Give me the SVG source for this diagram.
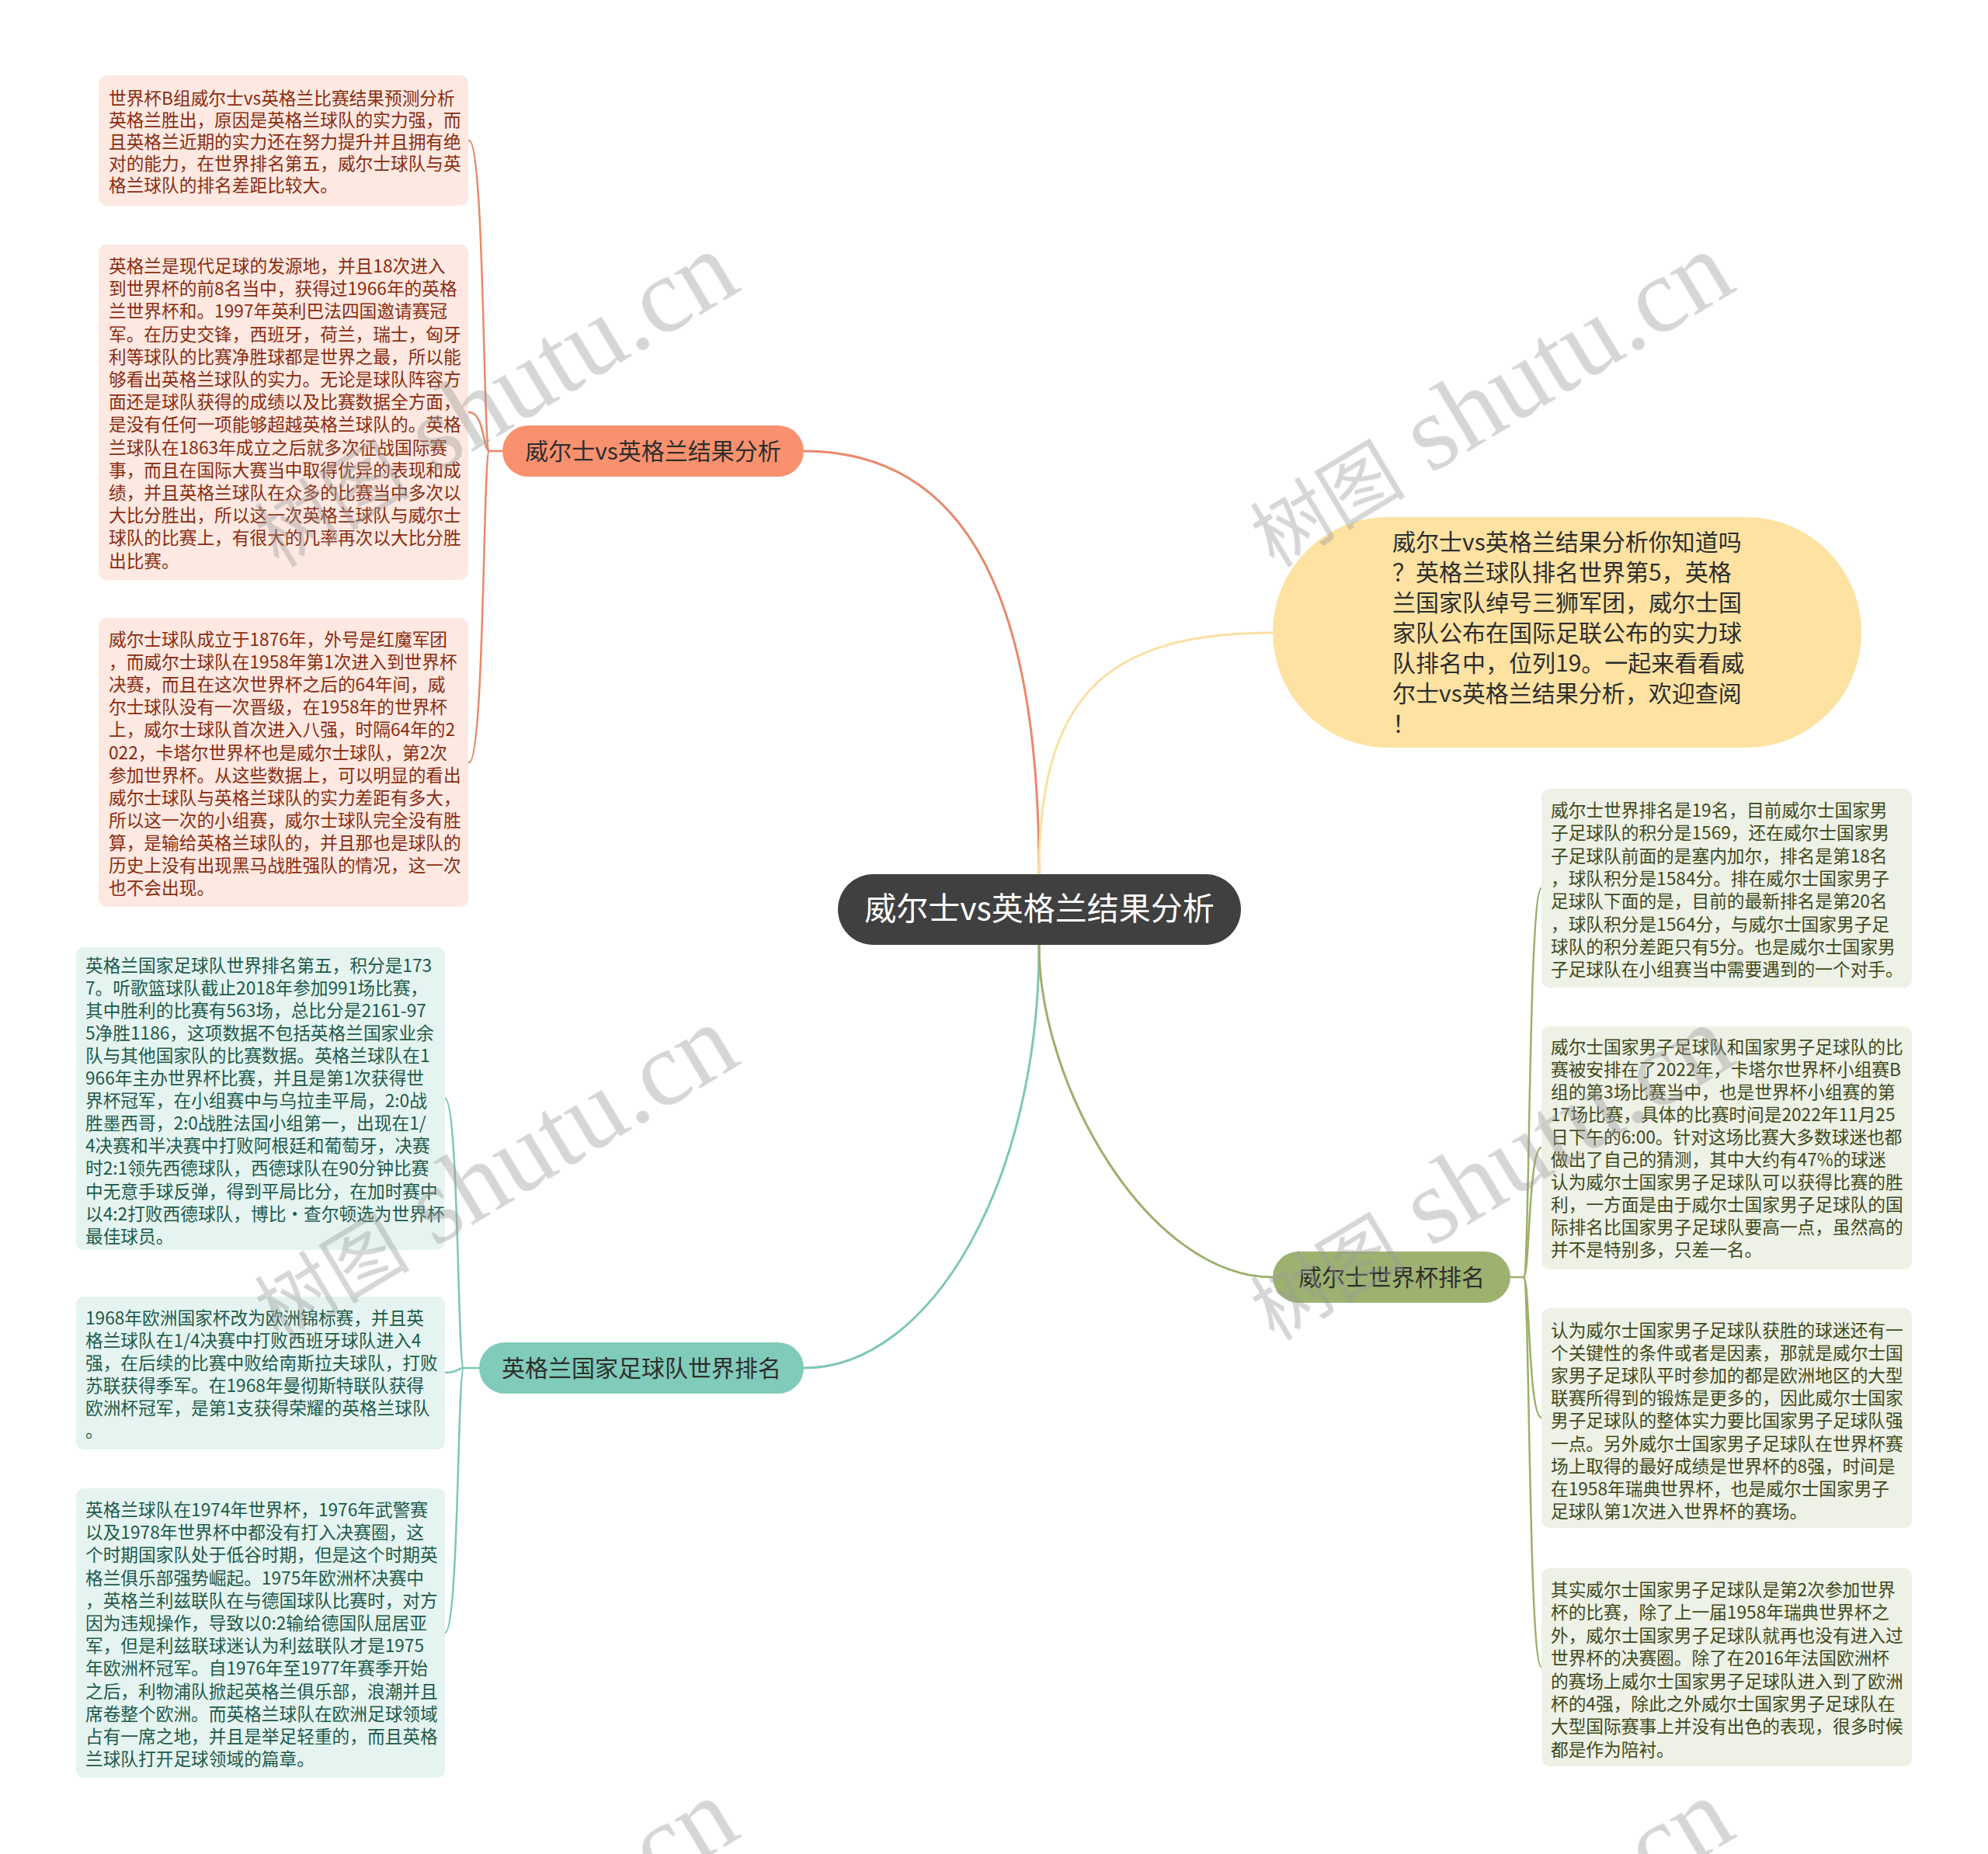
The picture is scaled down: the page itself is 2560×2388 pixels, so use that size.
<svg xmlns="http://www.w3.org/2000/svg" width="2560" height="2388" viewBox="0 0 2560 2388">
<style>
.lf{font-family:"Noto Sans CJK SC","Liberation Sans",sans-serif;font-size:22.7px}
.nf{font-family:"Noto Sans CJK SC","Liberation Sans",sans-serif;font-size:30px}
.pkT{fill:#8a2c10}
.tlT{fill:#1d5a4b}
.gnT{fill:#3e4a1c}
.pkB{fill:#fde9e2}
.tlB{fill:#e5f4f0}
.gnB{fill:#eef1e6}
.con{fill:none;stroke-width:3;stroke-linecap:round}
.br{fill:none;stroke-width:2.5;stroke-linecap:round}
.wm{font-family:"Liberation Serif",serif;fill:#9a9a9a}
</style>
<rect width="2560" height="2388" fill="#ffffff"/>

<g id="connectors">
<path class="con" stroke="#e8896a" d="M1338,1126 C1338,780 1250,581 1035,581"/>
<path class="con" stroke="#fbe0a3" d="M1338,1126 C1338,900 1420,815 1639,815"/>
<path class="con" stroke="#7dc7b6" d="M1338,1217 C1338,1520 1200,1762 1035,1762"/>
<path class="con" stroke="#9cb06c" d="M1338,1217 C1338,1400 1480,1645 1639,1645"/>
<path class="br" stroke="#e8896a" d="M647,581 H630"/>
<path class="br" stroke="#e8896a" d="M630,581 C622,581 624,181 604,181"/>
<path class="br" stroke="#e8896a" d="M630,581 C622,581 624,531 604,531"/>
<path class="br" stroke="#e8896a" d="M630,581 C622,581 624,982 604,982"/>
<path class="br" stroke="#7dc7b6" d="M617,1762 H597"/>
<path class="br" stroke="#7dc7b6" d="M597,1762 C589,1762 591,1415 573,1415"/>
<path class="br" stroke="#7dc7b6" d="M597,1762 C589,1762 591,1768 573,1768"/>
<path class="br" stroke="#7dc7b6" d="M597,1762 C589,1762 591,2103 573,2103"/>
<path class="br" stroke="#9cb06c" d="M1945,1645 H1962"/>
<path class="br" stroke="#9cb06c" d="M1962,1645 C1970,1645 1968,1144 1985,1144"/>
<path class="br" stroke="#9cb06c" d="M1962,1645 C1970,1645 1968,1478 1985,1478"/>
<path class="br" stroke="#9cb06c" d="M1962,1645 C1970,1645 1968,1826 1985,1826"/>
<path class="br" stroke="#9cb06c" d="M1962,1645 C1970,1645 1968,2147 1985,2147"/>
</g>

<g id="center">
<rect x="1079" y="1126" width="519" height="91" rx="45.5" fill="#404040"/>
<text x="1338.5" y="1185" text-anchor="middle" font-family="Noto Sans CJK SC, Liberation Sans, sans-serif" font-size="41" fill="#ffffff">威尔士vs英格兰结果分析</text>
</g>

<g id="node-orange">
<rect x="647" y="548" width="388" height="66" rx="33" fill="#f9916f"/>
<text class="nf" x="841" y="592" text-anchor="middle" fill="#2e2e2e">威尔士vs英格兰结果分析</text>
</g>

<g id="node-teal">
<rect x="617" y="1729" width="418" height="66" rx="33" fill="#80cbb9"/>
<text class="nf" x="826" y="1773" text-anchor="middle" fill="#2e2e2e" font-size="29.5">英格兰国家足球队世界排名</text>
</g>

<g id="node-green">
<rect x="1639" y="1612" width="306" height="66" rx="33" fill="#9db270"/>
<text class="nf" x="1792" y="1656" text-anchor="middle" fill="#2e2e2e">威尔士世界杯排名</text>
</g>

<g id="node-yellow">
<rect x="1639" y="666" width="758" height="297" rx="148.5" fill="#fde2a2"/>
<text class="nf" x="1793" y="709" fill="#2e2e2e" font-size="29.6">
<tspan x="1793" dy="0">威尔士vs英格兰结果分析你知道吗</tspan>
<tspan x="1793" dy="39">？英格兰球队排名世界第5，英格</tspan>
<tspan x="1793" dy="39">兰国家队绰号三狮军团，威尔士国</tspan>
<tspan x="1793" dy="39">家队公布在国际足联公布的实力球</tspan>
<tspan x="1793" dy="39">队排名中，位列19。一起来看看威</tspan>
<tspan x="1793" dy="39">尔士vs英格兰结果分析，欢迎查阅</tspan>
<tspan x="1793" dy="39">！</tspan>
</text>
</g>

<g id="leaf-o1">
<rect class="pkB" x="127" y="97" width="476" height="168" rx="10"/>
<text class="lf pkT" x="140" y="135">
<tspan x="140" dy="0">世界杯B组威尔士vs英格兰比赛结果预测分析</tspan>
<tspan x="140" dy="28">英格兰胜出，原因是英格兰球队的实力强，而</tspan>
<tspan x="140" dy="28">且英格兰近期的实力还在努力提升并且拥有绝</tspan>
<tspan x="140" dy="28">对的能力，在世界排名第五，威尔士球队与英</tspan>
<tspan x="140" dy="28">格兰球队的排名差距比较大。</tspan>
</text>
</g>

<g id="leaf-o2">
<rect class="pkB" x="127" y="315" width="476" height="432" rx="10"/>
<text class="lf pkT" x="140" y="351">
<tspan x="140" dy="0">英格兰是现代足球的发源地，并且18次进入</tspan>
<tspan x="140" dy="29.2">到世界杯的前8名当中，获得过1966年的英格</tspan>
<tspan x="140" dy="29.2">兰世界杯和。1997年英利巴法四国邀请赛冠</tspan>
<tspan x="140" dy="29.2">军。在历史交锋，西班牙，荷兰，瑞士，匈牙</tspan>
<tspan x="140" dy="29.2">利等球队的比赛净胜球都是世界之最，所以能</tspan>
<tspan x="140" dy="29.2">够看出英格兰球队的实力。无论是球队阵容方</tspan>
<tspan x="140" dy="29.2">面还是球队获得的成绩以及比赛数据全方面，</tspan>
<tspan x="140" dy="29.2">是没有任何一项能够超越英格兰球队的。英格</tspan>
<tspan x="140" dy="29.2">兰球队在1863年成立之后就多次征战国际赛</tspan>
<tspan x="140" dy="29.2">事，而且在国际大赛当中取得优异的表现和成</tspan>
<tspan x="140" dy="29.2">绩，并且英格兰球队在众多的比赛当中多次以</tspan>
<tspan x="140" dy="29.2">大比分胜出，所以这一次英格兰球队与威尔士</tspan>
<tspan x="140" dy="29.2">球队的比赛上，有很大的几率再次以大比分胜</tspan>
<tspan x="140" dy="29.2">出比赛。</tspan>
</text>
</g>

<g id="leaf-o3">
<rect class="pkB" x="127" y="796" width="476" height="372" rx="10"/>
<text class="lf pkT" x="140" y="832">
<tspan x="140" dy="0">威尔士球队成立于1876年，外号是红魔军团</tspan>
<tspan x="140" dy="29.1">，而威尔士球队在1958年第1次进入到世界杯</tspan>
<tspan x="140" dy="29.1">决赛，而且在这次世界杯之后的64年间，威</tspan>
<tspan x="140" dy="29.1">尔士球队没有一次晋级，在1958年的世界杯</tspan>
<tspan x="140" dy="29.1">上，威尔士球队首次进入八强，时隔64年的2</tspan>
<tspan x="140" dy="29.1">022，卡塔尔世界杯也是威尔士球队，第2次</tspan>
<tspan x="140" dy="29.1">参加世界杯。从这些数据上，可以明显的看出</tspan>
<tspan x="140" dy="29.1">威尔士球队与英格兰球队的实力差距有多大，</tspan>
<tspan x="140" dy="29.1">所以这一次的小组赛，威尔士球队完全没有胜</tspan>
<tspan x="140" dy="29.1">算，是输给英格兰球队的，并且那也是球队的</tspan>
<tspan x="140" dy="29.1">历史上没有出现黑马战胜强队的情况，这一次</tspan>
<tspan x="140" dy="29.1">也不会出现。</tspan>
</text>
</g>

<g id="leaf-t1">
<rect class="tlB" x="98" y="1220" width="475" height="390" rx="10"/>
<text class="lf tlT" x="110" y="1252">
<tspan x="110" dy="0">英格兰国家足球队世界排名第五，积分是173</tspan>
<tspan x="110" dy="29.05">7。听歌篮球队截止2018年参加991场比赛，</tspan>
<tspan x="110" dy="29.05">其中胜利的比赛有563场，总比分是2161-97</tspan>
<tspan x="110" dy="29.05">5净胜1186，这项数据不包括英格兰国家业余</tspan>
<tspan x="110" dy="29.05">队与其他国家队的比赛数据。英格兰球队在1</tspan>
<tspan x="110" dy="29.05">966年主办世界杯比赛，并且是第1次获得世</tspan>
<tspan x="110" dy="29.05">界杯冠军，在小组赛中与乌拉圭平局，2:0战</tspan>
<tspan x="110" dy="29.05">胜墨西哥，2:0战胜法国小组第一，出现在1/</tspan>
<tspan x="110" dy="29.05">4决赛和半决赛中打败阿根廷和葡萄牙，决赛</tspan>
<tspan x="110" dy="29.05">时2:1领先西德球队，西德球队在90分钟比赛</tspan>
<tspan x="110" dy="29.05">中无意手球反弹，得到平局比分，在加时赛中</tspan>
<tspan x="110" dy="29.05">以4:2打败西德球队，博比·查尔顿选为世界杯</tspan>
<tspan x="110" dy="29.05">最佳球员。</tspan>
</text>
</g>

<g id="leaf-t2">
<rect class="tlB" x="98" y="1670" width="475" height="197" rx="10"/>
<text class="lf tlT" x="110" y="1706">
<tspan x="110" dy="0">1968年欧洲国家杯改为欧洲锦标赛，并且英</tspan>
<tspan x="110" dy="29">格兰球队在1/4决赛中打败西班牙球队进入4</tspan>
<tspan x="110" dy="29">强，在后续的比赛中败给南斯拉夫球队，打败</tspan>
<tspan x="110" dy="29">苏联获得季军。在1968年曼彻斯特联队获得</tspan>
<tspan x="110" dy="29">欧洲杯冠军，是第1支获得荣耀的英格兰球队</tspan>
<tspan x="110" dy="29">。</tspan>
</text>
</g>

<g id="leaf-t3">
<rect class="tlB" x="98" y="1917" width="475" height="373" rx="10"/>
<text class="lf tlT" x="110" y="1953">
<tspan x="110" dy="0">英格兰球队在1974年世界杯，1976年武警赛</tspan>
<tspan x="110" dy="29.2">以及1978年世界杯中都没有打入决赛圈，这</tspan>
<tspan x="110" dy="29.2">个时期国家队处于低谷时期，但是这个时期英</tspan>
<tspan x="110" dy="29.2">格兰俱乐部强势崛起。1975年欧洲杯决赛中</tspan>
<tspan x="110" dy="29.2">，英格兰利兹联队在与德国球队比赛时，对方</tspan>
<tspan x="110" dy="29.2">因为违规操作，导致以0:2输给德国队屈居亚</tspan>
<tspan x="110" dy="29.2">军，但是利兹联球迷认为利兹联队才是1975</tspan>
<tspan x="110" dy="29.2">年欧洲杯冠军。自1976年至1977年赛季开始</tspan>
<tspan x="110" dy="29.2">之后，利物浦队掀起英格兰俱乐部，浪潮并且</tspan>
<tspan x="110" dy="29.2">席卷整个欧洲。而英格兰球队在欧洲足球领域</tspan>
<tspan x="110" dy="29.2">占有一席之地，并且是举足轻重的，而且英格</tspan>
<tspan x="110" dy="29.2">兰球队打开足球领域的篇章。</tspan>
</text>
</g>

<g id="leaf-g1">
<rect class="gnB" x="1985" y="1016" width="477" height="256" rx="10"/>
<text class="lf gnT" x="1997" y="1052">
<tspan x="1997" dy="0">威尔士世界排名是19名，目前威尔士国家男</tspan>
<tspan x="1997" dy="29.3">子足球队的积分是1569，还在威尔士国家男</tspan>
<tspan x="1997" dy="29.3">子足球队前面的是塞内加尔，排名是第18名</tspan>
<tspan x="1997" dy="29.3">，球队积分是1584分。排在威尔士国家男子</tspan>
<tspan x="1997" dy="29.3">足球队下面的是，目前的最新排名是第20名</tspan>
<tspan x="1997" dy="29.3">，球队积分是1564分，与威尔士国家男子足</tspan>
<tspan x="1997" dy="29.3">球队的积分差距只有5分。也是威尔士国家男</tspan>
<tspan x="1997" dy="29.3">子足球队在小组赛当中需要遇到的一个对手。</tspan>
</text>
</g>

<g id="leaf-g2">
<rect class="gnB" x="1985" y="1322" width="477" height="313" rx="10"/>
<text class="lf gnT" x="1997" y="1357">
<tspan x="1997" dy="0">威尔士国家男子足球队和国家男子足球队的比</tspan>
<tspan x="1997" dy="29">赛被安排在了2022年，卡塔尔世界杯小组赛B</tspan>
<tspan x="1997" dy="29">组的第3场比赛当中，也是世界杯小组赛的第</tspan>
<tspan x="1997" dy="29">17场比赛，具体的比赛时间是2022年11月25</tspan>
<tspan x="1997" dy="29">日下午的6:00。针对这场比赛大多数球迷也都</tspan>
<tspan x="1997" dy="29">做出了自己的猜测，其中大约有47%的球迷</tspan>
<tspan x="1997" dy="29">认为威尔士国家男子足球队可以获得比赛的胜</tspan>
<tspan x="1997" dy="29">利，一方面是由于威尔士国家男子足球队的国</tspan>
<tspan x="1997" dy="29">际排名比国家男子足球队要高一点，虽然高的</tspan>
<tspan x="1997" dy="29">并不是特别多，只差一名。</tspan>
</text>
</g>

<g id="leaf-g3">
<rect class="gnB" x="1985" y="1685" width="477" height="283" rx="10"/>
<text class="lf gnT" x="1997" y="1722">
<tspan x="1997" dy="0">认为威尔士国家男子足球队获胜的球迷还有一</tspan>
<tspan x="1997" dy="29.1">个关键性的条件或者是因素，那就是威尔士国</tspan>
<tspan x="1997" dy="29.1">家男子足球队平时参加的都是欧洲地区的大型</tspan>
<tspan x="1997" dy="29.1">联赛所得到的锻炼是更多的，因此威尔士国家</tspan>
<tspan x="1997" dy="29.1">男子足球队的整体实力要比国家男子足球队强</tspan>
<tspan x="1997" dy="29.1">一点。另外威尔士国家男子足球队在世界杯赛</tspan>
<tspan x="1997" dy="29.1">场上取得的最好成绩是世界杯的8强，时间是</tspan>
<tspan x="1997" dy="29.1">在1958年瑞典世界杯，也是威尔士国家男子</tspan>
<tspan x="1997" dy="29.1">足球队第1次进入世界杯的赛场。</tspan>
</text>
</g>

<g id="leaf-g4">
<rect class="gnB" x="1985" y="2020" width="477" height="255" rx="10"/>
<text class="lf gnT" x="1997" y="2056">
<tspan x="1997" dy="0">其实威尔士国家男子足球队是第2次参加世界</tspan>
<tspan x="1997" dy="29.4">杯的比赛，除了上一届1958年瑞典世界杯之</tspan>
<tspan x="1997" dy="29.4">外，威尔士国家男子足球队就再也没有进入过</tspan>
<tspan x="1997" dy="29.4">世界杯的决赛圈。除了在2016年法国欧洲杯</tspan>
<tspan x="1997" dy="29.4">的赛场上威尔士国家男子足球队进入到了欧洲</tspan>
<tspan x="1997" dy="29.4">杯的4强，除此之外威尔士国家男子足球队在</tspan>
<tspan x="1997" dy="29.4">大型国际赛事上并没有出色的表现，很多时候</tspan>
<tspan x="1997" dy="29.4">都是作为陪衬。</tspan>
</text>
</g>

<g id="watermark" opacity="0.4">
<text class="wm" transform="translate(640,522) rotate(-31)" x="0" y="35" text-anchor="middle"><tspan font-family="Noto Sans CJK SC, sans-serif" font-size="100">树图</tspan><tspan font-size="138"> shutu.cn</tspan></text>
<text class="wm" transform="translate(1922,522) rotate(-31)" x="0" y="35" text-anchor="middle"><tspan font-family="Noto Sans CJK SC, sans-serif" font-size="100">树图</tspan><tspan font-size="138"> shutu.cn</tspan></text>
<text class="wm" transform="translate(640,1518) rotate(-31)" x="0" y="35" text-anchor="middle"><tspan font-family="Noto Sans CJK SC, sans-serif" font-size="100">树图</tspan><tspan font-size="138"> shutu.cn</tspan></text>
<text class="wm" transform="translate(1922,1518) rotate(-31)" x="0" y="35" text-anchor="middle"><tspan font-family="Noto Sans CJK SC, sans-serif" font-size="100">树图</tspan><tspan font-size="138"> shutu.cn</tspan></text>
<text class="wm" transform="translate(640,2514) rotate(-31)" x="0" y="35" text-anchor="middle"><tspan font-family="Noto Sans CJK SC, sans-serif" font-size="100">树图</tspan><tspan font-size="138"> shutu.cn</tspan></text>
<text class="wm" transform="translate(1922,2514) rotate(-31)" x="0" y="35" text-anchor="middle"><tspan font-family="Noto Sans CJK SC, sans-serif" font-size="100">树图</tspan><tspan font-size="138"> shutu.cn</tspan></text>
</g>
</svg>
